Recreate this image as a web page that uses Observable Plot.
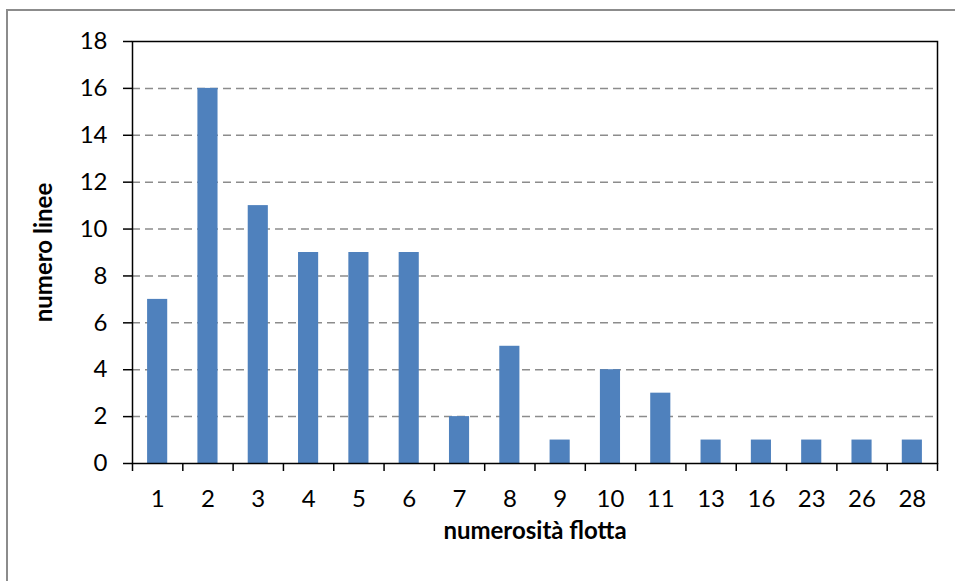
<!DOCTYPE html>
<html>
<head>
<meta charset="utf-8">
<script src="https://cdn.jsdelivr.net/npm/d3@7"></script>
<script src="https://cdn.jsdelivr.net/npm/@observablehq/plot@0.6"></script>
<style>
  html, body { margin: 0; padding: 0; background: #fff; }
  #wrap { position: relative; width: 955px; height: 581px; overflow: hidden; }
  #border { position: absolute; left: 6px; top: 9px; width: 1000px; height: 1000px;
            border-left: 2px solid #8c8c8c; border-top: 2px solid #8c8c8c; box-sizing: border-box; }
  #chart { position: absolute; left: 0; top: 0; }
</style>
</head>
<body>
<div id="wrap"><div id="border"></div><div id="chart"></div></div>
<script>
const categories = ["1","2","3","4","5","6","7","8","9","10","11","13","16","23","26","28"];
const values = [7, 16, 11, 9, 9, 9, 2, 5, 1, 4, 3, 1, 1, 1, 1, 1];
const yTicks = [0, 2, 4, 6, 8, 10, 12, 14, 16, 18];
const gridValues = [2, 4, 6, 8, 10, 12, 14, 16];
const xTitle = "numerosità flotta";
const yTitle = "numero linee";

const rows = categories.map((c, i) => ({cat: c, i, v: values[i]}));
const centers = categories.map((c, i) => i + 0.5);
const boundaries = d3.range(0, categories.length + 1);
const font = "Lato, 'Open Sans', sans-serif";
const fs = 24;

const chart = Plot.plot({
  width: 955,
  height: 581,
  marginLeft: 132,
  marginRight: 18,
  marginTop: 41,
  marginBottom: 118,
  style: {fontFamily: font, fontSize: fs + "px", color: "#000", background: "transparent"},
  x: {domain: [0, categories.length], axis: null},
  y: {domain: [0, 18], axis: null},
  marks: [
    Plot.ruleY(gridValues, {stroke: "#8c8c8c", strokeWidth: 1.5, strokeDasharray: "8,5"}),
    Plot.rectY(rows, {x1: d => d.i + 0.3, x2: d => d.i + 0.7, y1: 0, y2: "v", fill: "#4f81bd"}),
    Plot.frame({stroke: "#000", strokeWidth: 1.5}),
    Plot.axisY({ticks: yTicks, tickSize: 9, tickPadding: 16, strokeWidth: 1.5, tickFormat: d => String(d), label: null, fontSize: fs}),
    Plot.axisX({ticks: boundaries, tickSize: 8, tickFormat: () => "", strokeWidth: 1.5, label: null}),
    Plot.axisX({ticks: centers, tickSize: 0, tickPadding: 26, tickFormat: d => categories[Math.floor(d)], label: null, fontSize: fs}),
    Plot.text([xTitle], {frameAnchor: "bottom", lineAnchor: "middle", textAnchor: "middle", dy: 68, text: d => d, fontWeight: "bold", fontSize: fs}),
    Plot.text([yTitle], {frameAnchor: "left", lineAnchor: "middle", textAnchor: "middle", dx: -88, rotate: -90, text: d => d, fontWeight: "bold", fontSize: fs})
  ]
});
document.getElementById("chart").appendChild(chart);
</script>
</body>
</html>
